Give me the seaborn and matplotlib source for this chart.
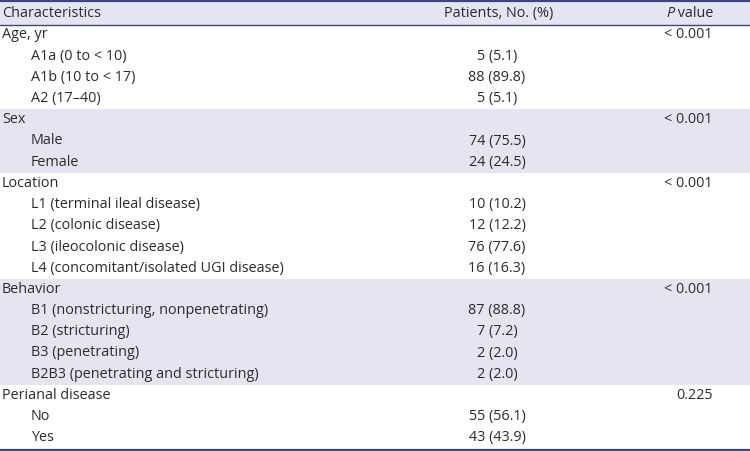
import matplotlib
matplotlib.use("Agg")
import matplotlib.pyplot as plt
import seaborn as sns

# ---- data ----
headers = ["Characteristics", "Patients, No. (%)", "P value"]
row_labels = [
    "Age, yr", "A1a (0 to < 10)", "A1b (10 to < 17)", "A2 (17–40)",
    "Sex", "Male", "Female",
    "Location", "L1 (terminal ileal disease)", "L2 (colonic disease)",
    "L3 (ileocolonic disease)", "L4 (concomitant/isolated UGI disease)",
    "Behavior", "B1 (nonstricturing, nonpenetrating)", "B2 (stricturing)",
    "B3 (penetrating)", "B2B3 (penetrating and stricturing)",
    "Perianal disease", "No", "Yes",
]
is_group = [True, False, False, False,
            True, False, False,
            True, False, False, False, False,
            True, False, False, False, False,
            True, False, False]
patients = ["", "5 (5.1)", "88 (89.8)", "5 (5.1)",
            "", "74 (75.5)", "24 (24.5)",
            "", "10 (10.2)", "12 (12.2)", "76 (77.6)", "16 (16.3)",
            "", "87 (88.8)", "7 (7.2)", "2 (2.0)", "2 (2.0)",
            "", "55 (56.1)", "43 (43.9)"]
p_values = ["< 0.001", "", "", "",
            "< 0.001", "", "",
            "< 0.001", "", "", "", "",
            "< 0.001", "", "", "", "",
            "0.225", "", ""]
shaded_groups = [(4, 6), (12, 16)]  # row index ranges with shading

# ---- style ----
sns.set_theme(style="white")
plt.rcParams["font.family"] = ["Open Sans", "DejaVu Sans"]

W, H = 750, 451
fig = plt.figure(figsize=(W / 100, H / 100), dpi=100)
ax = fig.add_axes([0, 0, 1, 1])
ax.set_xlim(0, W)
ax.set_ylim(H, 0)
ax.axis("off")

shade = "#e5e5f1"
line_c = "#3a4683"
txt_c = "#2b2b2b"
fs = 10.4

y0, dy = 35.0, 21.2

def yc(i):
    return y0 + dy * i

# header band
ax.axhspan(1.5, 25.5, color=shade, lw=0, zorder=0)
for a, b in shaded_groups:
    ax.axhspan(yc(a) - dy / 2, yc(b) + dy / 2, color=shade, lw=0, zorder=0)

ax.axhline(1.2, color=line_c, lw=1.6, zorder=2)
ax.axhline(25.3, color=line_c, lw=1.0, zorder=2)
ax.axhline(449.5, color=line_c, lw=1.6, zorder=2)

hy = 13.5
ax.text(2, hy, headers[0], ha="left", va="center", fontsize=fs, color=txt_c)
ax.text(499, hy, headers[1], ha="center", va="center", fontsize=fs, color=txt_c)
ax.text(713, hy, " value", ha="right", va="center", fontsize=fs, color=txt_c)
ax.text(666, hy, "P", ha="left", va="center", fontsize=fs, color=txt_c,
        style="italic")

for i, lab in enumerate(row_labels):
    y = yc(i)
    x = 2 if is_group[i] else 31
    ax.text(x, y, lab, ha="left", va="center", fontsize=fs, color=txt_c)
    if patients[i]:
        ax.text(497, y, patients[i], ha="center", va="center", fontsize=fs, color=txt_c)
    if p_values[i]:
        ax.text(713, y, p_values[i], ha="right", va="center", fontsize=fs, color=txt_c)

fig.savefig("out.png", dpi=100)
